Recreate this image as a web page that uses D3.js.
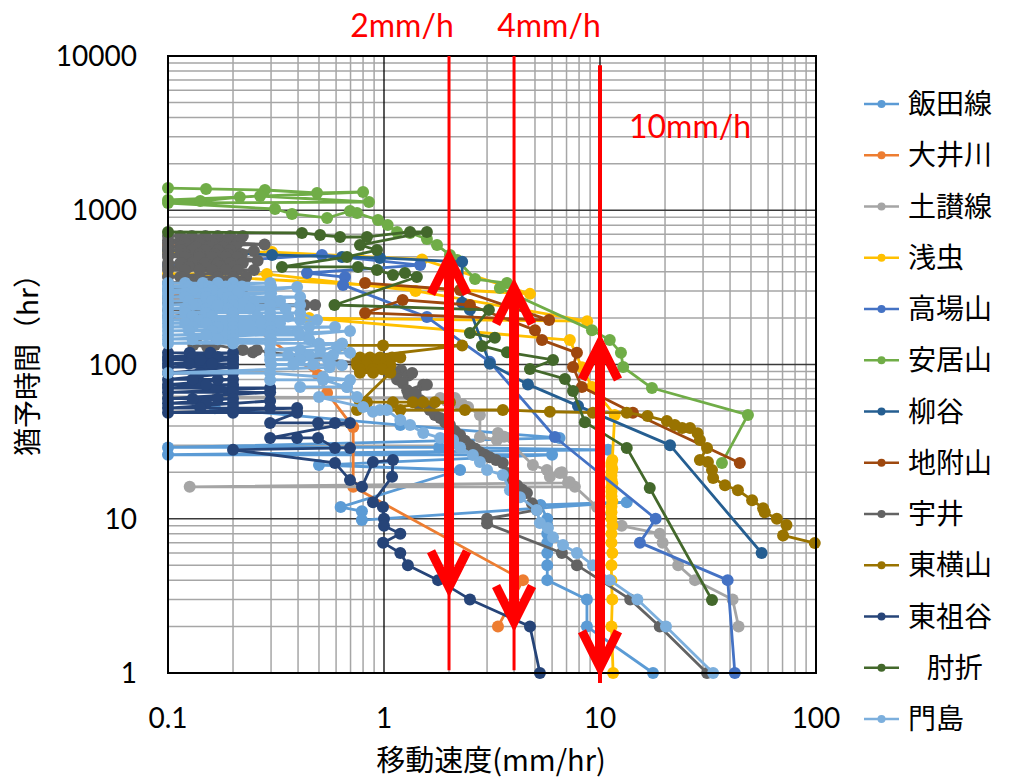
<!DOCTYPE html>
<html><head><meta charset="utf-8">
<script src="https://cdn.jsdelivr.net/npm/d3@7"></script>
<style>
html,body{margin:0;padding:0;background:#fff;}
svg{display:block;}
</style></head><body>
<svg id="chart" width="1010" height="781"></svg>
<script>
// Each series: [moving velocity (mm/hr), lead time to failure (hr)]
const iidaLine = [[0.165,52],[1.19,40.5],[6.5,33.4],[0.1,29],[1.8,29],[10.9,28],[0.1,26],[6,26],[0.5,22.3],[2.25,20.7],[0.63,11.9],[0.79,11.2],[0.79,9.8],[13.3,12.8],[5.3,12.3],[5.7,10],[5.7,9],[5.7,8],[5.7,7],[5.7,6],[5.7,5],[5.7,4],[8.7,3],[8.7,2],[17.6,1]];
const oigawa = [[0.1,595],[0.184,552],[0.204,498],[0.1,262],[0.184,262],[0.194,226],[0.495,85.5],[0.545,65.4],[0.72,39.3],[0.72,16.1],[4.4,4],[3.37,2]];
const dosanLine = [[0.1,61.6],[0.169,61.6],[1.82,60.7],[1.95,58],[2.13,60.7],[2.2,56],[2.3,55.4],[2.45,53],[2.78,47],[2.78,33.9],[3.33,32.4],[3.37,36],[3.6,34],[4.89,22.3],[5.68,20.7],[5.86,18.7],[6.52,19.8],[7.11,17.1],[0.126,16.1],[7.65,16.1],[6.66,20],[7.25,17.3],[9.68,11.9],[12.6,9],[18.9,8],[19.5,7],[23,5],[27.5,4],[41.1,3],[43.8,2]];
const asamushi = [[0.1,540],[0.303,536],[1.5,480],[4.74,287],[0.1,386],[0.287,386],[1.4,300],[8.72,191],[0.45,200],[7.25,144],[8.24,96],[9.18,71.5],[11.7,47],[11.4,24],[11.3,23],[11.3,22],[11.4,21],[11.3,20],[11.3,19],[11.3,18],[11.4,17],[11.3,16],[11.3,15],[11.3,14],[11.4,13],[11.3,12],[11.3,11],[11.3,10],[11.4,9],[11.3,8],[11.3,7],[11.4,6],[11.3,5],[11.3,4],[11.4,3],[11.3,2],[11.5,1]];
const takabayama = [[0.1,441],[0.516,513],[1.47,441],[0.44,392],[0.66,369],[0.646,328],[1.58,203],[3.09,104],[6.18,33.9],[18.1,10],[15.3,7],[39,4],[42.1,1]];
const yasuiyama = [[0.1,1393],[0.15,1374],[0.281,1353],[0.49,1294],[0.8,1313],[0.1,1165],[0.141,1148],[0.215,1218],[0.267,1237],[0.852,1131],[0.1,1114],[0.313,1019],[0.375,946],[0.545,891],[0.696,989],[0.75,959],[0.938,865],[1.04,802],[1.15,723],[1.32,713],[1.58,651],[1.76,595],[2.02,513],[2.18,476],[2.64,358],[3.71,337],[3.44,313],[9.18,167],[11.1,144],[12.5,119],[12.8,96.3],[17.4,70.4],[48.4,47.1],[36.7,23]];
const yanagidani = [[0.1,552],[0.303,513],[0.639,498],[0.958,491],[2.3,463],[2.3,251],[2.5,226],[3.09,101],[4.64,74.3],[7.91,53.9],[21.1,30],[56,6]];
const jizukiyama = [[0.817,337],[2.25,304],[5.81,194],[0.817,216],[1.22,262],[2.5,243],[5.0,167],[5.39,144],[7.82,119],[7.5,96.3],[8.24,71.5],[14.2,48.7],[44.4,23]];
const ui = [
  [0.1,681],[0.114,681],[0.129,681],[0.149,681],[0.17,681],[0.194,681],[0.222,681],
  [0.1,640],[0.12,640],[0.14,640],[0.165,640],[0.19,640],[0.215,640],
  [0.1,613],[0.12,613],[0.14,613],[0.16,613],[0.185,613],[0.21,613],[0.28,600],
  [0.1,580],[0.114,580],[0.135,580],[0.155,580],[0.18,580],[0.205,580],
  [0.1,552],[0.114,552],[0.129,552],[0.149,552],[0.17,552],[0.194,552],[0.25,545],
  [0.1,520],[0.12,520],[0.14,520],[0.165,520],[0.19,520],[0.22,520],
  [0.1,498],[0.12,498],[0.14,498],[0.16,498],[0.185,498],[0.21,498],[0.26,470],
  [0.1,455],[0.114,455],[0.129,455],[0.149,455],[0.17,455],[0.194,455],[0.222,455],
  [0.1,430],[0.125,430],[0.15,430],[0.175,430],[0.2,430],
  [0.1,410],[0.12,410],[0.14,410],[0.16,410],[0.185,410],[0.21,410],[0.25,410],
  [0.1,369],[0.114,369],[0.14,369],[0.17,369],[0.2,369],[0.23,369],
  [0.1,337],[0.13,337],[0.16,337],[0.19,337],[0.22,337],
  [0.1,304],[0.14,304],[0.18,304],[0.22,304],
  [0.1,274],[0.15,274],[0.2,274],
  [0.1,250],[0.2,250],[0.43,243],[0.48,243],
  [0.1,226],[0.2,226],
  [0.1,204],[0.2,204],
  [0.131,134],[0.152,130],[0.165,134],[0.222,124],[0.247,120],[0.258,124],[0.297,120],
  [1.07,96],[1.1,90],[1.2,92],[1.13,86],[1.3,85],[1.35,88],[1.15,80],[1.22,76],[1.28,68],[1.52,74],[1.58,74],[1.36,61.5],[1.3,64],[1.47,58.8],[1.4,65],[1.45,55],
  [1.63,50.7],[1.72,47],[1.82,45],[1.92,42],[2.02,40.5],[2.13,37],[2.25,34.9],[2.37,32],[2.5,30],[2.64,28.5],[2.78,27],[2.93,26],[3.09,25],[3.3,24],[3.55,23],[3.71,19.8],[3.9,18],[4.13,16.5],[4.35,15.5],[4.59,14.7],[4.84,12.6],[5.1,11.4],[3.0,10],[3.0,9.3],[6.66,6],[7.82,5],[13.8,3],[18.9,2],[31.3,1]
];
const higashiyokoyama = [
  [0.63,133],[0.99,133],[2.3,133],
  [0.774,111],[0.861,111],[0.958,111],[1.09,111],[1.19,111],
  [0.75,105],[0.84,105],[0.93,105],[1.02,105],
  [0.75,99],[0.84,99],[0.93,99],[1.07,99],
  [0.774,93],[0.89,93],[0.98,93],
  [0.774,88.5],[0.89,88.5],[1.07,88.5],
  [0.774,57],[0.834,57],[1.1,57],[1.36,57],[1.52,57],[1.72,57],[2.02,57],
  [0.75,50.7],[1.19,50.7],[2.37,50.7],[3.55,50.7],[5.86,49.4],[9.27,48.7],
  [13.3,48.7],[16.6,46.3],[20.4,43],[22.2,40.5],[24,38.7],[26.1,38.7],[28.3,35.9],[29,32.4],[31.3,28.8],[29,24],[31.6,23.3],[33,20.7],[33.4,18.4],[37.9,16.5],[43.5,15.3],[50.6,13.2],[56.9,11.7],[57.9,11],[65.9,10],[73,9.1],[70.4,7.8],[98.7,6.95]
];
const higashiiya = [
  [0.1,119],[0.126,119],[0.157,119],[0.2,119],
  [0.1,112],[0.13,112],[0.17,112],[0.2,112],
  [0.1,107],[0.141,107],[0.2,107],
  [0.1,101],[0.125,101],[0.16,101],[0.2,101],
  [0.1,96.3],[0.2,96.3],
  [0.1,88],[0.14,88],[0.2,88],
  [0.1,80],[0.13,80],[0.17,80],[0.2,80],
  [0.1,74],[0.15,74],[0.2,74],
  [0.1,70.4],[0.2,70.4],[0.297,70.4],
  [0.1,66],[0.2,66],[0.297,66],
  [0.1,60],[0.13,60],[0.17,60],[0.2,60],
  [0.1,56],[0.15,56],[0.2,56],[0.297,58],
  [0.1,52.2],[0.141,52.2],[0.2,52.2],[0.297,52.2],[0.396,52.2],
  [0.1,48.7],[0.2,48.7],[0.396,48.7],
  [0.297,41.8],[0.495,41.8],[0.593,41.8],[0.696,41.8],
  [0.297,33.4],[0.396,33.4],[0.495,33.4],
  [0.593,28.8],[0.696,28.8],[0.2,28],
  [0.593,23],[0.696,17.8],[0.791,16.1],[0.889,23.3],[1.1,24],[1.09,18.7],[0.889,12.8],[0.989,11.9],[1.0,10],[1.0,9],[1.19,8],[0.99,7],[1.19,6],[1.29,5],[1.78,4],[2.5,3],[4.74,2],[5.27,1]
];
const hijiori = [[0.1,723],[0.417,713],[0.506,691],[0.626,671],[0.834,671],[1.32,723],[1.58,723],[0.774,595],[0.928,552],[0.674,498],[0.337,429],[0.758,429],[0.928,410],[1.1,381],[1.25,392],[1.42,369],[0.59,243],[3.06,226],[2.5,160],[3.26,149],[2.84,132],[3.71,120],[6.06,107],[4.74,93.5],[6.88,80.6],[7.5,67.3],[8.51,42.3],[13.3,28.8],[17,15.8],[33,2.97]];
const kadoshima = [
  [0.1,337],[0.12,337],[0.145,337],[0.17,337],[0.2,337],[0.297,337],
  [0.1,320],[0.125,320],[0.155,320],[0.185,320],[0.22,320],[0.3,320],
  [0.1,304],[0.13,304],[0.16,304],[0.2,304],[0.297,304],[0.396,318],
  [0.1,290],[0.12,290],[0.15,290],[0.18,290],[0.21,290],[0.3,290],
  [0.1,274],[0.12,274],[0.15,274],[0.19,274],[0.297,274],[0.409,274],
  [0.1,258],[0.125,258],[0.16,258],[0.2,258],[0.25,258],[0.33,258],
  [0.1,243],[0.13,243],[0.17,243],[0.2,243],[0.297,243],[0.409,243],
  [0.1,230],[0.12,230],[0.15,230],[0.19,230],[0.24,230],[0.35,230],
  [0.1,216],[0.12,216],[0.15,216],[0.2,216],[0.297,216],[0.409,216],[0.49,194],
  [0.1,205],[0.13,205],[0.16,205],[0.2,205],[0.26,205],[0.36,205],
  [0.1,194],[0.14,194],[0.2,194],[0.297,194],[0.409,194],
  [0.1,185],[0.12,185],[0.15,185],[0.2,185],[0.27,185],[0.33,185],
  [0.1,175],[0.13,175],[0.17,175],[0.2,175],[0.297,175],[0.45,175],[0.593,175],
  [0.1,165],[0.125,165],[0.16,165],[0.2,165],[0.3,165],[0.4,165],
  [0.1,155],[0.15,155],[0.2,155],[0.297,155],[0.409,155],[0.696,165],
  [0.1,146],[0.13,146],[0.17,146],[0.2,146],[0.3,146],[0.45,146],
  [0.1,137],[0.2,137],[0.297,137],[0.5,137],[0.64,137],
  [0.297,124],[0.409,124],[0.506,124],[0.606,130],[0.696,119],
  [0.297,115],[0.36,115],[0.45,115],[0.58,115],
  [0.297,107],[0.409,107],[0.55,107],[0.639,99],
  [0.3,100],[0.38,100],[0.47,100],[0.56,96],
  [0.1,88],[0.297,88],[0.522,83],[0.696,79.4],
  [0.297,79.4],[0.522,79.4],[0.674,71.5],
  [0.409,71.5],[0.674,71.5],[0.75,61.5],
  [0.5,61.5],[0.8,53],[0.889,49.4],
  [0.958,50.7],[1.03,50.7],[1.19,43.6],[1.32,40.5],[1.52,36],[1.82,33.4],[2.09,32.4],[2.25,29],[2.58,25.9],[2.78,23.3],[3.0,20.7],[3.55,19.2],[3.83,15.3],[4.26,13.8],[5.1,11.4],[5.27,9.4],[5.74,8.7],[6.06,7.6],[6.74,6.75],[7.82,6],[9.27,5],[11.1,4],[14.9,3],[20.2,2],[33.4,1]
];

const seriesNames = ["飯田線","大井川","土讃線","浅虫","高場山","安居山","柳谷","地附山","宇井","東横山","東祖谷","   肘折","門島"];
const seriesColors = ["#5B9BD5","#ED7D31","#A5A5A5","#FFC000","#4472C4","#70AD47","#255E91","#9E480E","#636363","#997300","#264478","#43682B","#7CAFDD"];
const seriesData = [iidaLine, oigawa, dosanLine, asamushi, takabayama, yasuiyama, yanagidani, jizukiyama, ui, higashiyokoyama, higashiiya, hijiori, kadoshima];

const xTicks = [0.1, 1, 10, 100];
const xTickLabels = ["0.1", "1", "10", "100"];
const yTicks = [1, 10, 100, 1000, 10000];
const yTickLabels = ["1", "10", "100", "1000", "10000"];

// reference velocities with their double-headed arrows
const guideSpeeds = [2, 4, 10];
const guideLabels = ["2mm/h", "4mm/h", "10mm/h"];
const guideLineTop = [10000, 10000, 8700];
const guideLineBottom = [1.04, 1.04, 0.86];
const guideArrowTop = [490, 313, 137];
const guideArrowBottom = [3.6, 2.14, 1.09];

const svg = d3.select("#chart");
const plot = {left: 168, right: 816, top: 56, bottom: 673};
const x = d3.scaleLog().domain([0.1, 100]).range([plot.left, plot.right]);
const y = d3.scaleLog().domain([1, 10000]).range([plot.bottom, plot.top]);

const latin = "Lato, 'Liberation Sans', sans-serif";
const cjk = "'Noto Sans CJK JP', 'Noto Sans', sans-serif";

// grid: minor lines first, decade lines on top
const minorX = [], minorY = [];
[0.1, 1, 10].forEach(d => { for (let k = 2; k <= 9; k++) minorX.push(d * k); });
[1, 10, 100, 1000].forEach(d => { for (let k = 2; k <= 9; k++) minorY.push(d * k); });
const grid = svg.append("g");
grid.selectAll(".mx").data(minorX).join("line")
  .attr("x1", d => x(d)).attr("x2", d => x(d)).attr("y1", plot.top).attr("y2", plot.bottom)
  .attr("stroke", "#a6a6a6").attr("stroke-width", 1.5);
grid.selectAll(".my").data(minorY).join("line")
  .attr("y1", d => y(d)).attr("y2", d => y(d)).attr("x1", plot.left).attr("x2", plot.right)
  .attr("stroke", "#a6a6a6").attr("stroke-width", 1.5);
grid.selectAll(".Mx").data(xTicks.slice(1, -1)).join("line")
  .attr("x1", d => x(d)).attr("x2", d => x(d)).attr("y1", plot.top).attr("y2", plot.bottom)
  .attr("stroke", "#000").attr("stroke-width", 1.3);
grid.selectAll(".My").data(yTicks.slice(1, -1)).join("line")
  .attr("y1", d => y(d)).attr("y2", d => y(d)).attr("x1", plot.left).attr("x2", plot.right)
  .attr("stroke", "#3a3a3a").attr("stroke-width", 1.6);

// series lines and markers
const line = d3.line().x(d => x(d[0])).y(d => y(d[1]));
const seriesG = svg.append("g");
seriesData.forEach((data, i) => {
  const g = seriesG.append("g");
  g.append("path").attr("d", line(data)).attr("fill", "none")
    .attr("stroke", seriesColors[i]).attr("stroke-width", 2.8).attr("stroke-linejoin", "round");
  g.selectAll("circle").data(data).join("circle")
    .attr("cx", d => x(d[0])).attr("cy", d => y(d[1])).attr("r", 6)
    .attr("fill", seriesColors[i]);
});

// plot frame
svg.append("rect").attr("x", plot.left).attr("y", plot.top)
  .attr("width", plot.right - plot.left).attr("height", plot.bottom - plot.top)
  .attr("fill", "none").attr("stroke", "#000").attr("stroke-width", 2);

// guide lines and arrows
const red = "#ff0000";
const guides = svg.append("g");
guideSpeeds.forEach((v, i) => {
  const gx = x(v);
  guides.append("line").attr("x1", gx).attr("x2", gx)
    .attr("y1", y(guideLineTop[i])).attr("y2", y(guideLineBottom[i]))
    .attr("stroke", red).attr("stroke-width", i === 2 ? 4 : 3);
  const yt = y(guideArrowTop[i]), yb = y(guideArrowBottom[i]);
  guides.append("line").attr("x1", gx).attr("x2", gx).attr("y1", yt + 6).attr("y2", yb - 6)
    .attr("stroke", red).attr("stroke-width", 10);
  const w = 18, h = 36;
  guides.append("path").attr("d", `M${gx - w},${yt + h}L${gx},${yt}L${gx + w},${yt + h}`)
    .attr("fill", "none").attr("stroke", red).attr("stroke-width", 9).attr("stroke-linejoin", "miter");
  guides.append("path").attr("d", `M${gx - w},${yb - h}L${gx},${yb}L${gx + w},${yb - h}`)
    .attr("fill", "none").attr("stroke", red).attr("stroke-width", 9).attr("stroke-linejoin", "miter");
});
const labelPos = [[402, 37], [549, 37], [690, 138]];
guideLabels.forEach((t, i) => {
  svg.append("text").attr("x", labelPos[i][0]).attr("y", labelPos[i][1])
    .attr("text-anchor", "middle").attr("fill", red)
    .style("font-family", latin).style("font-size", "32px").text(t);
});

// tick labels
svg.selectAll(".xt").data(xTicks).join("text")
  .attr("x", d => x(d)).attr("y", 728).attr("text-anchor", "middle")
  .style("font-family", latin).style("font-size", "28px").attr("fill", "#000")
  .text((d, i) => xTickLabels[i]);
svg.selectAll(".yt").data(yTicks).join("text")
  .attr("x", 137).attr("y", d => y(d) + 10).attr("text-anchor", "end")
  .style("font-family", latin).style("font-size", "28px").attr("fill", "#000")
  .text((d, i) => yTickLabels[i]);

// axis titles
svg.append("text").attr("x", 491).attr("y", 771).attr("text-anchor", "middle")
  .style("font-family", cjk).style("font-size", "29px").text("移動速度(mm/hr)");
svg.append("text").attr("transform", "translate(38,358) rotate(-90)").attr("text-anchor", "middle")
  .style("font-family", cjk).style("font-size", "28px").text("猶予時間（hr）");

// legend
const legend = svg.append("g");
seriesNames.forEach((name, i) => {
  const ly = 104 + i * 51.25;
  legend.append("line").attr("x1", 864).attr("x2", 899).attr("y1", ly).attr("y2", ly)
    .attr("stroke", seriesColors[i]).attr("stroke-width", 2.5);
  legend.append("circle").attr("cx", 881.5).attr("cy", ly).attr("r", 4).attr("fill", seriesColors[i]);
  legend.append("text").attr("x", 908).attr("y", ly + 10).style("white-space", "pre")
    .style("font-family", cjk).style("font-size", "28px").attr("fill", "#000").text(name);
});
</script>
</body></html>
